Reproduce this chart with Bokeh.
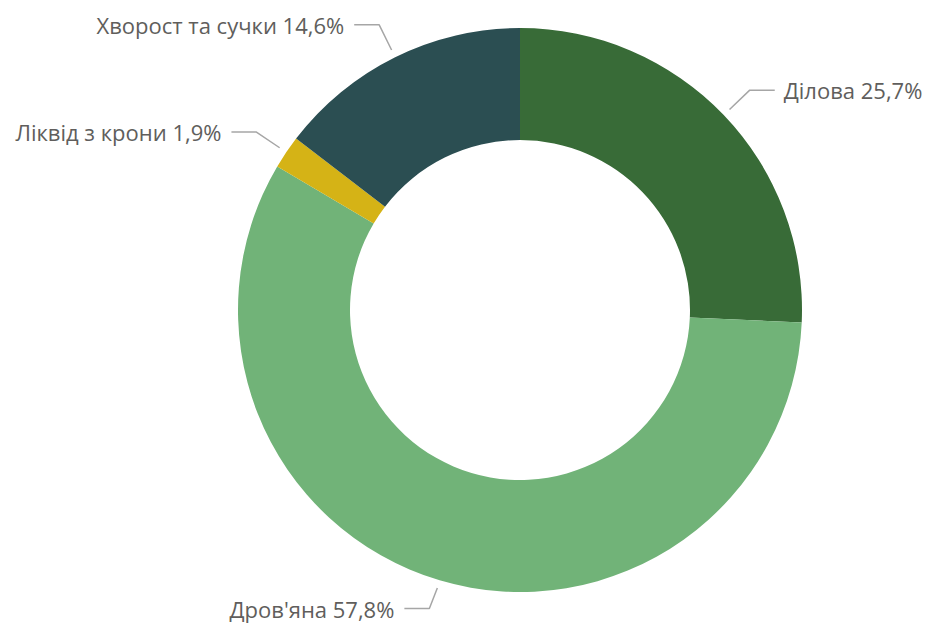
import math
from bokeh.plotting import figure
from bokeh.models import Range1d, ColumnDataSource
from bokeh.core.properties import value
from bokeh.embed import file_html
from bokeh.resources import INLINE

labels = ["Ділова", "Дров'яна", "Ліквід з крони", "Хворост та сучки"]
shares = [25.7, 57.8, 1.9, 14.6]
colors = ["#386b37", "#71b378", "#d5b316", "#2b4e52"]

W, H = 929, 625
p = figure(width=W, height=H, output_backend="svg", toolbar_location=None,
           x_range=Range1d(0, W), y_range=Range1d(0, H), min_border=0)
p.axis.visible = False
p.grid.visible = False
p.outline_line_color = None
p.background_fill_color = "white"

cx, cy = 519.5, 315.5
r_out, r_in = 282, 170

total = sum(shares)
starts, ends = [], []
cum = 0.0
for s in shares:
    a0 = math.pi / 2 - 2 * math.pi * cum / total
    cum += s
    a1 = math.pi / 2 - 2 * math.pi * cum / total
    starts.append(a0)
    ends.append(a1)

src = ColumnDataSource(dict(start=starts, end=ends, color=colors))
p.annular_wedge(x=cx, y=cy, inner_radius=r_in, outer_radius=r_out,
                start_angle="start", end_angle="end", direction="clock",
                fill_color="color", line_color=None, source=src)

xs, ys = [], []
lx, ly, lt = [], [], []
rx, ry, rt = [], [], []
for lab, s, a0, a1 in zip(labels, shares, starts, ends):
    m = (a0 + a1) / 2
    x0, y0 = cx + 290 * math.cos(m), cy + 290 * math.sin(m)
    x1, y1 = cx + 318 * math.cos(m), cy + 318 * math.sin(m)
    y1 = max(y1, 17)
    sign = 1 if math.cos(m) >= 0 else -1
    x2 = x1 + sign * 25
    xs.append([x0, x1, x2])
    ys.append([y0, y1, y1])
    txt = f"{lab} {s:.1f}%".replace(".", ",")
    if sign > 0:
        rx.append(x2 + 9); ry.append(y1); rt.append(txt)
    else:
        lx.append(x2 - 10); ly.append(y1); lt.append(txt)

p.multi_line(xs=xs, ys=ys, line_color="#a6a6a6", line_width=1.5)
common = dict(text_font=value("Open Sans"), text_font_size="22px",
              text_color="#605e5c", text_baseline="middle")
p.text(x=rx, y=ry, text=rt, text_align="left", **common)
p.text(x=lx, y=ly, text=lt, text_align="right", **common)

open("out.html", "w").write(file_html(p, INLINE))
